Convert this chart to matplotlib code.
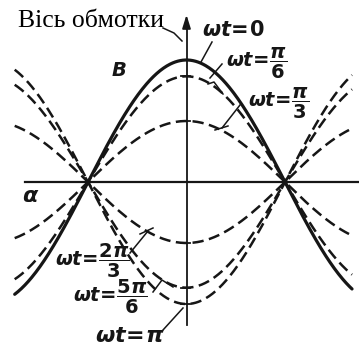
import matplotlib.pyplot as plt
import numpy as np

plt.rcParams['mathtext.fontset'] = 'custom'
plt.rcParams['mathtext.it'] = 'DejaVu Sans:italic:bold'
plt.rcParams['mathtext.rm'] = 'DejaVu Sans:bold'
plt.rcParams['mathtext.bf'] = 'DejaVu Sans:bold'

# phases of the pulsating field, wt
phases = [0, np.pi / 6, np.pi / 3, 2 * np.pi / 3, 5 * np.pi / 6, np.pi]
phase_labels = [r'$\omega t\!=\!0$', r'$\omega t\!=\!\dfrac{\pi}{6}$', r'$\omega t\!=\!\dfrac{\pi}{3}$',
                r'$\omega t\!=\!\dfrac{2\pi}{3}$', r'$\omega t\!=\!\dfrac{5\pi}{6}$', r'$\omega t\!=\!\pi$']
alpha_range = [-2.74, 2.64]   # electrical angle along the air gap, rad

# picture geometry (pixels of the scanned drawing)
X0, Y0, SX, SY = 186.5, 182.0, 62.7, 122.0
W, H = 359, 348


def P(xp, yp):
    return (xp - X0) / SX, (Y0 - yp) / SY


ink = '#161616'
fig = plt.figure(figsize=(W / 100, H / 100), dpi=100)
ax = fig.add_axes([0, 0, 1, 1])
ax.set_xlim(-X0 / SX, (W - X0) / SX)
ax.set_ylim((Y0 - H) / SY, Y0 / SY)
ax.axis('off')

alpha = np.linspace(alpha_range[0], alpha_range[1], 400)
for i, wt in enumerate(phases):
    b = np.cos(wt) * np.cos(alpha)
    if i == 0:
        ax.plot(alpha, b, color=ink, lw=2.3, solid_capstyle='round')
    else:
        ax.plot(alpha, b, color=ink, lw=1.8, linestyle=(0, (4.5, 2.2)))
        # small tick where the curve crosses the winding axis
        ax.plot([-0.09, 0.06], [np.cos(wt), np.cos(wt)], color=ink, lw=1.3)

# coordinate axes
ax.plot(*zip(P(25, Y0), P(W, Y0)), color=ink, lw=1.6)
ax.plot(*zip(P(X0, 325), P(X0, 30)), color=ink, lw=1.3)
ax.annotate('', xy=P(X0, 12), xytext=P(X0, 32),
            arrowprops=dict(arrowstyle='-|>,head_length=0.8,head_width=0.25', color=ink, lw=1.3))

# labels
ax.text(*P(18, 27), 'Вісь обмотки', family='Liberation Serif', fontsize=18.5, color='black',
        ha='left', va='baseline')
ax.text(*P(119, 71), r'$B$', fontsize=14, color=ink, ha='center', va='center')
ax.text(*P(31, 196), r'$\alpha$', fontsize=16, color=ink, ha='center', va='center')

label_pos = [(233, 30), (257, 63), (279, 103), (92, 261), (110, 297), (130, 336)]
label_size = [15, 14, 14, 14, 14, 16]
for (xp, yp), lab, fs in zip(label_pos, phase_labels, label_size):
    ax.text(*P(xp, yp), lab, fontsize=fs, color=ink, ha='center', va='center')

# leader lines
leaders = [
    [(163, 28), (174, 33), (182, 41)],
    [(212, 42), (201, 62)],
    [(222, 64), (210, 78)],
    [(208, 84), (214, 82), (223, 94)],
    [(240, 105), (222, 128)],
    [(215, 130), (228, 126)],
    [(130, 253), (148, 231)],
    [(140, 234), (153, 228)],
    [(153, 292), (162, 280), (173, 287)],
    [(163, 330), (183, 308)],
]
for seg in leaders:
    pts = [P(*p) for p in seg]
    ax.plot([p[0] for p in pts], [p[1] for p in pts], color=ink, lw=1.1)

fig.savefig('out.png', dpi=100, facecolor='white')
